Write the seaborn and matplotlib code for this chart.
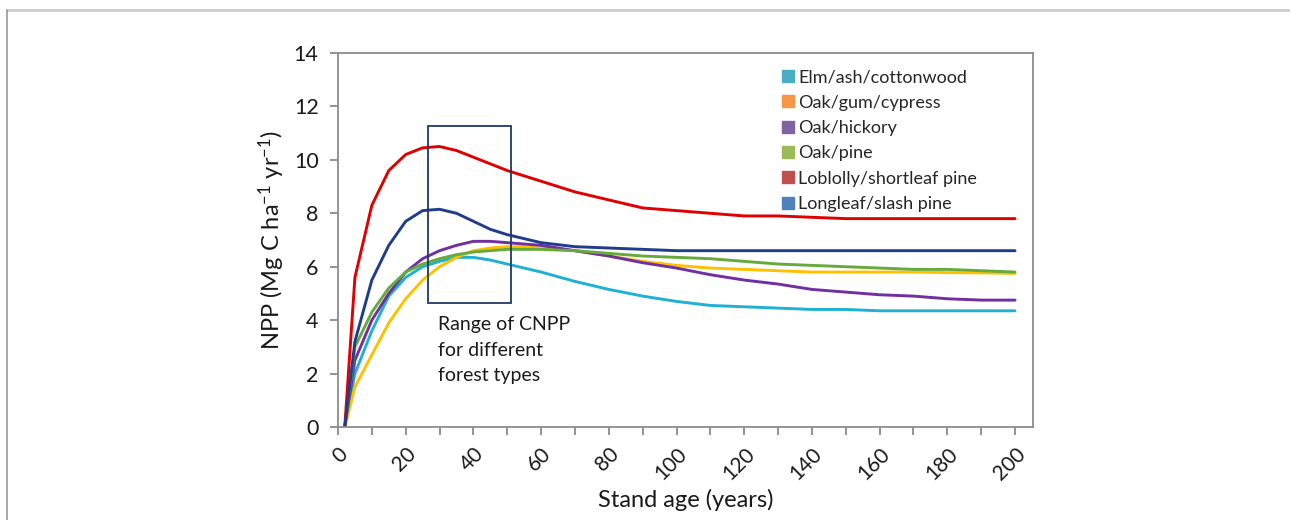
import numpy as np
import pandas as pd
import matplotlib
matplotlib.use("Agg")
import matplotlib.pyplot as plt
from matplotlib.lines import Line2D
from matplotlib.patches import Rectangle
import seaborn as sns

ages = [2, 5, 10, 15, 20, 25, 30, 35, 40, 45, 50, 55, 60, 70, 80, 90, 100,
        110, 120, 130, 140, 150, 160, 170, 180, 190, 200]

elm = [0.0, 2.0, 3.6, 4.9, 5.6, 6.0, 6.2, 6.35, 6.35, 6.25, 6.1, 5.95, 5.8, 5.45,
       5.15, 4.9, 4.7, 4.55, 4.5, 4.45, 4.4, 4.4, 4.35, 4.35, 4.35, 4.35, 4.35]
oak_gum = [0.0, 1.5, 2.7, 3.9, 4.8, 5.5, 6.0, 6.35, 6.6, 6.7, 6.75, 6.75, 6.7, 6.6,
           6.4, 6.2, 6.05, 5.95, 5.9, 5.85, 5.8, 5.8, 5.8, 5.8, 5.78, 5.77, 5.75]
oak_hickory = [0.0, 2.5, 4.0, 5.0, 5.8, 6.3, 6.6, 6.8, 6.95, 6.95, 6.9, 6.85, 6.8, 6.6,
               6.4, 6.15, 5.95, 5.7, 5.5, 5.35, 5.15, 5.05, 4.95, 4.9, 4.8, 4.75, 4.75]
oak_pine = [0.0, 3.0, 4.3, 5.2, 5.8, 6.1, 6.3, 6.45, 6.55, 6.6, 6.65, 6.65, 6.65, 6.6,
            6.5, 6.4, 6.35, 6.3, 6.2, 6.1, 6.05, 6.0, 5.95, 5.9, 5.9, 5.85, 5.8]
loblolly = [0.0, 5.6, 8.3, 9.6, 10.2, 10.45, 10.5, 10.35, 10.1, 9.85, 9.6, 9.4, 9.2, 8.8,
            8.5, 8.2, 8.1, 8.0, 7.9, 7.9, 7.85, 7.8, 7.8, 7.8, 7.8, 7.8, 7.8]
longleaf = [0.0, 3.2, 5.5, 6.8, 7.7, 8.1, 8.15, 8.0, 7.7, 7.4, 7.2, 7.05, 6.9, 6.75,
            6.7, 6.65, 6.6, 6.6, 6.6, 6.6, 6.6, 6.6, 6.6, 6.6, 6.6, 6.6, 6.6]

series_names = ["Elm/ash/cottonwood", "Oak/gum/cypress", "Oak/hickory",
                "Oak/pine", "Loblolly/shortleaf pine", "Longleaf/slash pine"]
series_values = [elm, oak_gum, oak_hickory, oak_pine, loblolly, longleaf]

line_colors = ["#1fb1d3", "#ffc000", "#7030a0", "#66aa3c", "#e00000", "#1f3d8c"]
legend_colors = ["#4bacc6", "#f79646", "#8064a2", "#9bbb59", "#c0504d", "#4f81bd"]

x_major = list(range(0, 201, 20))
x_minor = list(range(0, 201, 10))
y_ticks = list(range(0, 15, 2))

df = pd.DataFrame({
    "age": np.tile(ages, len(series_names)),
    "npp": np.concatenate(series_values),
    "type": np.repeat(series_names, len(ages)),
})

sns.set_theme(style="white")
plt.rcParams["font.family"] = ["Lato", "DejaVu Sans"]
plt.rcParams["mathtext.fontset"] = "custom"
plt.rcParams["mathtext.rm"] = "Lato"
plt.rcParams["mathtext.it"] = "Lato:italic"

fig = plt.figure(figsize=(12.9, 5.2), dpi=100)
ax = fig.add_axes([338 / 1290, 1 - 427 / 520, (1033 - 338) / 1290, (427 - 53) / 520])

sns.lineplot(data=df, x="age", y="npp", hue="type", hue_order=series_names,
             palette=dict(zip(series_names, line_colors)), linewidth=2.1,
             legend=False, ax=ax)

ax.set_xlim(0, 205.3)
ax.set_ylim(0, 14)
ax.set_xticks(x_major)
ax.set_xticks(x_minor, minor=True)
ax.set_yticks(y_ticks)
ax.set_xticklabels([str(v) for v in x_major], rotation=45, ha="right",
                   rotation_mode="anchor", fontsize=15, color="#1a1a1a")
ax.set_yticklabels([str(v) for v in y_ticks], fontsize=15.5, color="#1a1a1a")
ax.tick_params(axis="both", which="both", direction="out", length=6, width=1.2,
               color="#808080", bottom=True, left=True)
ax.tick_params(axis="x", which="major", pad=6)
ax.tick_params(axis="y", pad=8)

for s in ax.spines.values():
    s.set_visible(True)
    s.set_color("#8c8c8c")
    s.set_linewidth(1.3)

ax.set_xlabel("Stand age (years)", fontsize=17, color="#1a1a1a", labelpad=4)
ax.set_ylabel(r"NPP (Mg C ha$^{-1}$ yr$^{-1}$)", fontsize=17, color="#1a1a1a", labelpad=5)

ax.add_patch(Rectangle((26.5, 4.65), 24.5, 6.6, fill=False, edgecolor="#1f3864",
                       linewidth=1.3, zorder=5))
ax.text(29.5, 4.15, "Range of CNPP\nfor different\nforest types", fontsize=14,
        va="top", ha="left", color="#1a1a1a", linespacing=1.6)

handles = [Line2D([0], [0], marker="s", linestyle="none", markersize=8,
                  markerfacecolor=c, markeredgecolor=c) for c in legend_colors]
ax.legend(handles, series_names, loc="upper left", bbox_to_anchor=(0.613, 1.0),
          frameon=False, fontsize=13, handletextpad=0.1, labelspacing=0.52,
          handlelength=0.9)

fig.add_artist(Line2D([7 / 1290, 1.0], [1 - 10 / 520, 1 - 10 / 520],
                      transform=fig.transFigure, color="#cccccc", linewidth=2))
fig.add_artist(Line2D([7 / 1290, 7 / 1290], [0, 1 - 10 / 520],
                      transform=fig.transFigure, color="#999999", linewidth=1.2))

fig.savefig("out.png", dpi=100)
